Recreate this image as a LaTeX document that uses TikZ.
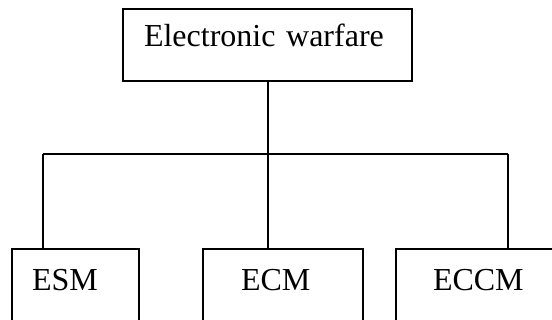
\documentclass[tikz,border=0pt]{standalone}
\usepackage{fontspec}
\setmainfont{Liberation Serif}
\usepackage{tikz}
\usetikzlibrary{positioning}

\begin{document}
\begin{tikzpicture}[x=1pt,y=1pt,line width=2pt,
    font=\fontsize{32}{38}\selectfont,
    box/.style={draw,rectangle,align=left,inner ysep=14pt}]
    \useasboundingbox (0,0) rectangle (552,320);
    % top box
    \node[box,text width=247pt,inner xsep=21pt,text height=24pt,text depth=20pt]
      (ew) at (267.5,275) {Electronic warfare};
    % bottom boxes
    \node[box,text width=87pt,inner xsep=20pt,text height=28pt,text depth=30pt]
      (esm) at (75.5,28) {ESM};
    \node[box,text width=84pt,inner xsep=38pt,text height=28pt,text depth=30pt]
      (ecm) at (283,28) {ECM};
    \node[box,text width=90pt,inner xsep=37pt,text height=28pt,text depth=30pt]
      (eccm) at (478,28) {ECCM};
    % bus line
    \coordinate (bus) at (ew.south |- 0,165.5);
    \coordinate (jl) at (43,165.5);
    \coordinate (jm) at (268,165.5);
    \coordinate (jr) at (508,165.5);
    \draw (ew.south) -- (bus);
    \draw (jl) -- (jr);
    \draw (jl) -- (jl |- esm.north);
    \draw (jm) -- (jm |- ecm.north);
    \draw (jr) -- (jr |- eccm.north);
  \end{tikzpicture}
\end{document}
